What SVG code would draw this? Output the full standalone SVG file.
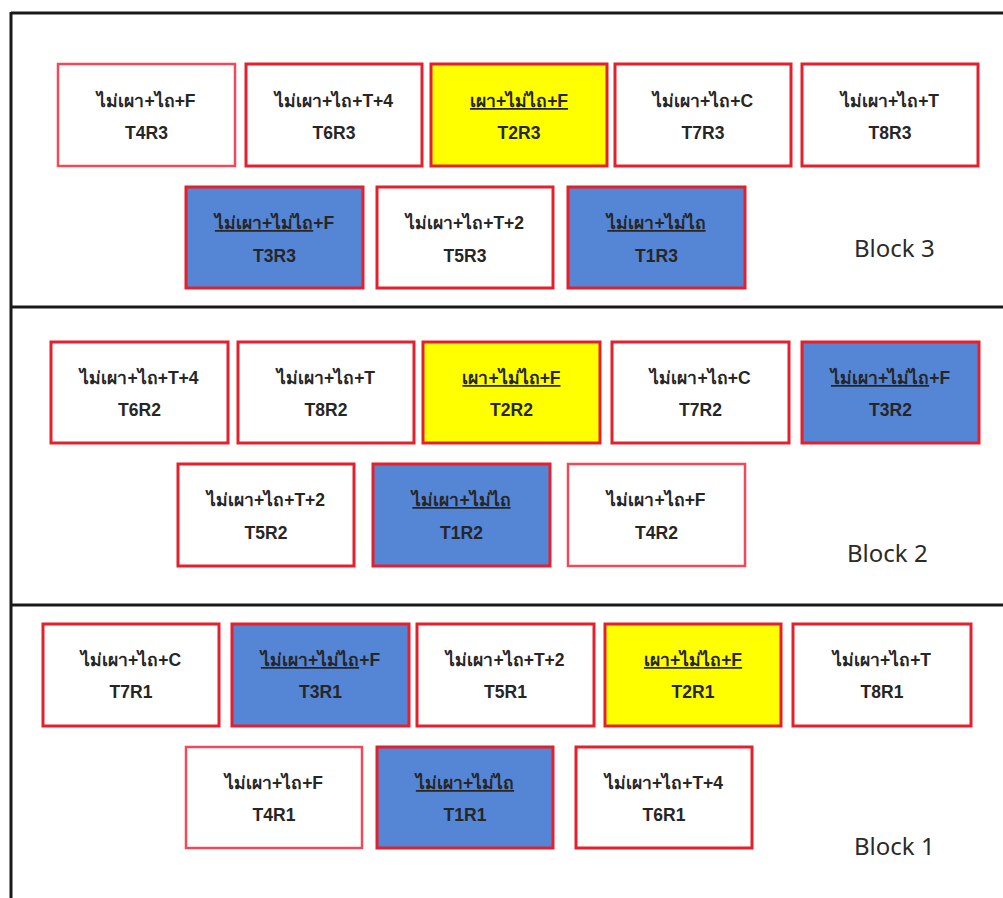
<svg xmlns="http://www.w3.org/2000/svg" width="1003" height="898" viewBox="0 0 1003 898">
  <style>
    .frame { stroke: #1a1a1a; stroke-width: 3; fill: none; }
    .box { stroke: #e3202c; stroke-width: 3; }
    .soft { stroke: #f04a5a; stroke-width: 2.5; }
    .plain { fill: #ffffff; }
    .blue { fill: #5585d5; }
    .yellow { fill: #ffff00; }
    .lbl { font-family: "Liberation Sans", "Noto Sans", "DejaVu Sans", sans-serif; font-size: 17.5px; fill: #262626; text-anchor: middle; font-weight: bold; }
    .ul { text-decoration: underline; }
    .blk { font-family: "Noto Sans", "DejaVu Sans", sans-serif; font-size: 24px; fill: #2a2a2a; }
  </style>

  <rect width="1003" height="898" fill="#ffffff"/>

  <!-- block frame lines -->
  <g id="frame">
    <line class="frame" x1="11" y1="13" x2="1003" y2="13"/>
    <line class="frame" x1="11" y1="12" x2="11" y2="898"/>
    <line class="frame" x1="11" y1="307" x2="1003" y2="307"/>
    <line class="frame" x1="11" y1="605" x2="1003" y2="605"/>
  </g>

  <!-- Block 3 -->
  <g id="T4R3"><rect class="plain soft" x="58" y="64" width="177" height="102"/>
    <text class="lbl" x="146.5" y="107">ไม่เผา+ไถ+F</text><text class="lbl" x="146.5" y="139">T4R3</text></g>
  <g id="T6R3"><rect class="plain box" x="246" y="64" width="176" height="102"/>
    <text class="lbl" x="334" y="107">ไม่เผา+ไถ+T+4</text><text class="lbl" x="334" y="139">T6R3</text></g>
  <g id="T2R3"><rect class="yellow box" x="431" y="64" width="176" height="102"/>
    <text class="lbl" x="519" y="107"><tspan class="ul">เผา+ไม่ไถ+F</tspan></text><text class="lbl" x="519" y="139">T2R3</text></g>
  <g id="T7R3"><rect class="plain box" x="615" y="64" width="176" height="102"/>
    <text class="lbl" x="703" y="107">ไม่เผา+ไถ+C</text><text class="lbl" x="703" y="139">T7R3</text></g>
  <g id="T8R3"><rect class="plain box" x="802" y="64" width="176" height="102"/>
    <text class="lbl" x="890" y="107">ไม่เผา+ไถ+T</text><text class="lbl" x="890" y="139">T8R3</text></g>
  <g id="T3R3"><rect class="blue box" x="186" y="187" width="177" height="101"/>
    <text class="lbl" x="274.5" y="229"><tspan class="ul">ไม่เผา+ไม่ไถ</tspan>+F</text><text class="lbl" x="274.5" y="262">T3R3</text></g>
  <g id="T5R3"><rect class="plain box" x="377" y="187" width="176" height="101"/>
    <text class="lbl" x="465" y="229">ไม่เผา+ไถ+T+2</text><text class="lbl" x="465" y="262">T5R3</text></g>
  <g id="T1R3"><rect class="blue box" x="568" y="187" width="177" height="101"/>
    <text class="lbl" x="656.5" y="229"><tspan class="ul">ไม่เผา+ไม่ไถ</tspan></text><text class="lbl" x="656.5" y="262">T1R3</text></g>
  <text class="blk" x="854" y="257">Block 3</text>

  <!-- Block 2 -->
  <g id="T6R2"><rect class="plain box" x="51" y="342" width="177" height="101"/>
    <text class="lbl" x="139.5" y="384">ไม่เผา+ไถ+T+4</text><text class="lbl" x="139.5" y="416">T6R2</text></g>
  <g id="T8R2"><rect class="plain box" x="238" y="342" width="176" height="101"/>
    <text class="lbl" x="326" y="384">ไม่เผา+ไถ+T</text><text class="lbl" x="326" y="416">T8R2</text></g>
  <g id="T2R2"><rect class="yellow box" x="423" y="342" width="177" height="101"/>
    <text class="lbl" x="511.5" y="384"><tspan class="ul">เผา+ไม่ไถ+F</tspan></text><text class="lbl" x="511.5" y="416">T2R2</text></g>
  <g id="T7R2"><rect class="plain box" x="612" y="342" width="177" height="101"/>
    <text class="lbl" x="700.5" y="384">ไม่เผา+ไถ+C</text><text class="lbl" x="700.5" y="416">T7R2</text></g>
  <g id="T3R2"><rect class="blue box" x="802" y="342" width="177" height="101"/>
    <text class="lbl" x="890.5" y="384"><tspan class="ul">ไม่เผา+ไม่ไถ</tspan>+F</text><text class="lbl" x="890.5" y="416">T3R2</text></g>
  <g id="T5R2"><rect class="plain box" x="178" y="464" width="176" height="102"/>
    <text class="lbl" x="266" y="506">ไม่เผา+ไถ+T+2</text><text class="lbl" x="266" y="539">T5R2</text></g>
  <g id="T1R2"><rect class="blue box" x="373" y="464" width="177" height="102"/>
    <text class="lbl" x="461.5" y="506"><tspan class="ul">ไม่เผา+ไม่ไถ</tspan></text><text class="lbl" x="461.5" y="539">T1R2</text></g>
  <g id="T4R2"><rect class="plain soft" x="568" y="464" width="177" height="102"/>
    <text class="lbl" x="656.5" y="506">ไม่เผา+ไถ+F</text><text class="lbl" x="656.5" y="539">T4R2</text></g>
  <text class="blk" x="847" y="562">Block 2</text>

  <!-- Block 1 -->
  <g id="T7R1"><rect class="plain box" x="43" y="624" width="176" height="102"/>
    <text class="lbl" x="131" y="666">ไม่เผา+ไถ+C</text><text class="lbl" x="131" y="698">T7R1</text></g>
  <g id="T3R1"><rect class="blue box" x="232" y="624" width="177" height="102"/>
    <text class="lbl" x="320.5" y="666"><tspan class="ul">ไม่เผา+ไม่ไถ</tspan>+F</text><text class="lbl" x="320.5" y="698">T3R1</text></g>
  <g id="T5R1"><rect class="plain box" x="417" y="624" width="177" height="102"/>
    <text class="lbl" x="505.5" y="666">ไม่เผา+ไถ+T+2</text><text class="lbl" x="505.5" y="698">T5R1</text></g>
  <g id="T2R1"><rect class="yellow box" x="605" y="624" width="176" height="102"/>
    <text class="lbl" x="693" y="666"><tspan class="ul">เผา+ไม่ไถ+F</tspan></text><text class="lbl" x="693" y="698">T2R1</text></g>
  <g id="T8R1"><rect class="plain box" x="793" y="624" width="178" height="102"/>
    <text class="lbl" x="882" y="666">ไม่เผา+ไถ+T</text><text class="lbl" x="882" y="698">T8R1</text></g>
  <g id="T4R1"><rect class="plain soft" x="186" y="747" width="176" height="101"/>
    <text class="lbl" x="274" y="789">ไม่เผา+ไถ+F</text><text class="lbl" x="274" y="821">T4R1</text></g>
  <g id="T1R1"><rect class="blue box" x="377" y="747" width="176" height="101"/>
    <text class="lbl" x="465" y="789"><tspan class="ul">ไม่เผา+ไม่ไถ</tspan></text><text class="lbl" x="465" y="821">T1R1</text></g>
  <g id="T6R1"><rect class="plain box" x="576" y="747" width="176" height="101"/>
    <text class="lbl" x="664" y="789">ไม่เผา+ไถ+T+4</text><text class="lbl" x="664" y="821">T6R1</text></g>
  <text class="blk" x="854" y="855">Block 1</text>
</svg>
